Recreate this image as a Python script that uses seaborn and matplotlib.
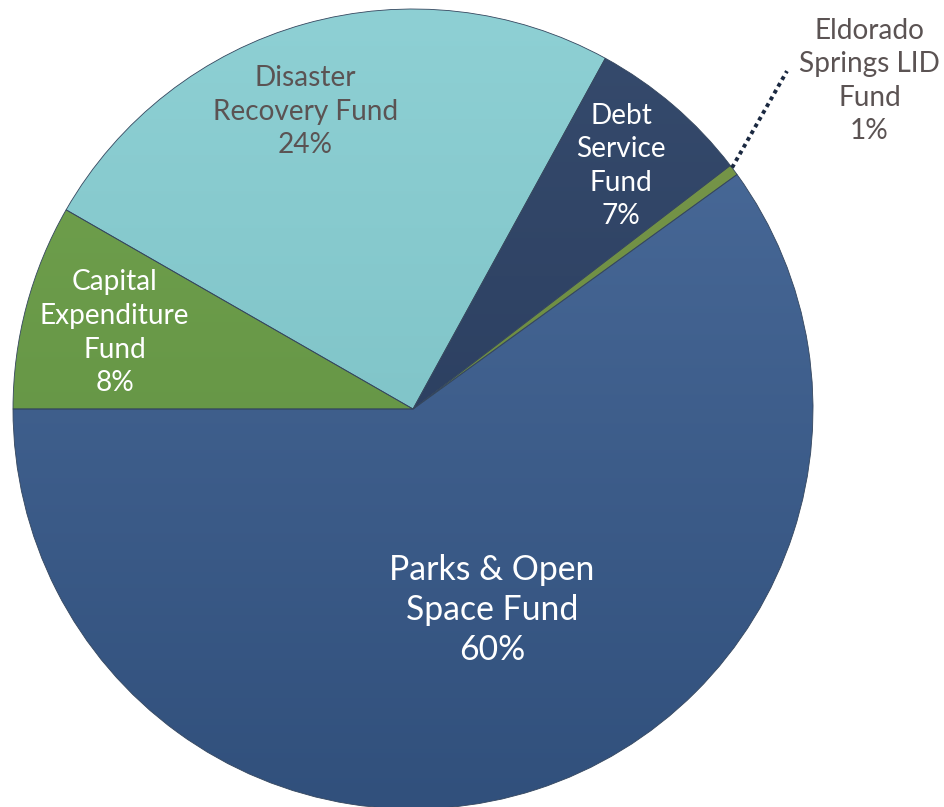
import numpy as np
import matplotlib
matplotlib.use("Agg")
import matplotlib.pyplot as plt
import seaborn as sns
from matplotlib.colors import to_rgb

# ---- data ----
categories = ["Parks & Open\nSpace Fund", "Eldorado\nSprings LID\nFund",
              "Debt\nService\nFund", "Disaster\nRecovery Fund",
              "Capital\nExpenditure\nFund"]
shares = [60.0, 0.45, 6.6, 24.7, 8.3]
pct_labels = ["60%", "1%", "7%", "24%", "8%"]

# ---- styles ----
top_colors = ["#4c6d9c", "#7a9a4c", "#364b6d", "#8ed0d4", "#72a34f"]
bottom_colors = ["#31507c", "#5f7e38", "#243657", "#74babe", "#5d8c3f"]
text_colors = ["white", "#5b5353", "white", "#5b5353", "white"]
font_sizes = [24.3, 20.2, 20.2, 20.2, 20.2]
line_spacings = [1.3, 1.36, 1.36, 1.36, 1.36]
angle_offsets = [3.5, -1.0, 0.0, 4.2, 0.6]
radius_fracs = [0.54, 1.405, 0.80, 0.79, 0.77]

sns.set_theme(style="white")
plt.rcParams['font.family'] = ['Lato', 'DejaVu Sans']

fig = plt.figure(figsize=(9.45, 8.07), dpi=100)
ax = fig.add_axes([0, 0, 1, 1])
R = 400
wedges, _ = ax.pie(shares, radius=R, startangle=180, counterclock=True,
                   colors=top_colors,
                   wedgeprops=dict(edgecolor="#34465e", linewidth=0.6))

# vertical gradient fill clipped to each wedge
n = 400
t = np.linspace(0, 1, n)[:, None]
for i, w in enumerate(wedges):
    c0 = np.array(to_rgb(top_colors[i]))
    c1 = np.array(to_rgb(bottom_colors[i]))
    img = (c0[None, None, :] * (1 - t[:, :, None]) + c1[None, None, :] * t[:, :, None])
    img = np.repeat(img, 2, axis=1)
    im = ax.imshow(img, extent=(-R, R, -R, R), origin="upper", aspect="auto",
                   interpolation="bilinear", zorder=2)
    im.set_clip_path(w)
    w.set_facecolor("none")
    w.set_zorder(3)

# labels
for i, w in enumerate(wedges):
    mid = np.deg2rad((w.theta1 + w.theta2) / 2 + angle_offsets[i])
    r = radius_fracs[i] * R
    x, y = r * np.cos(mid), r * np.sin(mid)
    ax.text(x, y, categories[i] + "\n" + pct_labels[i], ha="center", va="center",
            color=text_colors[i], fontsize=font_sizes[i],
            linespacing=line_spacings[i], zorder=5)

# leader line for the small slice
w = wedges[1]
mid = (w.theta1 + w.theta2) / 2
a0, a1 = np.deg2rad(mid + 0.4), np.deg2rad(mid + 5.4)
ax.plot([R * np.cos(a0), 1.26 * R * np.cos(a1)], [R * np.sin(a0), 1.26 * R * np.sin(a1)],
        color="#1a2840", lw=2.8, linestyle=(0, (1, 1.0)), zorder=4,
        solid_capstyle="butt")

ax.set_xlim(-413, 532)
ax.set_ylim(-398, 409)
ax.set_aspect("equal")
ax.axis("off")
fig.savefig("out.png", dpi=100)
